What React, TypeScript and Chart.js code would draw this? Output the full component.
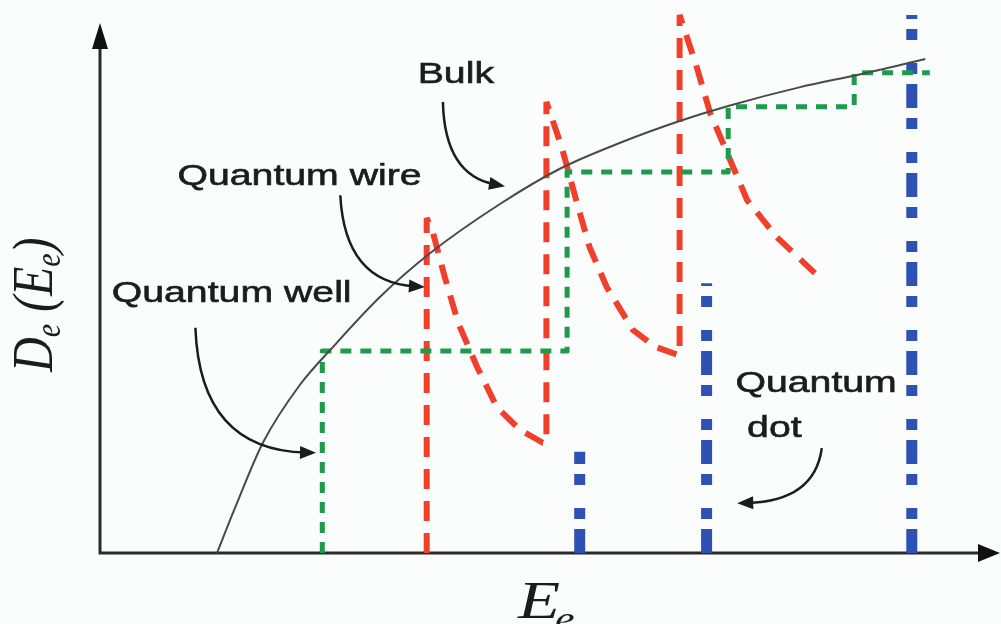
import { useEffect, useRef } from "react";
import { Chart, registerables } from "chart.js";

Chart.register(...registerables);

// ---- data (schematic units: energy 0..100, density 0..100) ----
const bulkX = [13.0, 15.0, 18.1, 22.2, 25.9, 31.1, 36.7, 44.4, 51.1, 57.8, 64.4, 69.7, 77.8, 84.4, 91.7];
const bulkY = [0, 8.5, 20.8, 31.7, 38.9, 48.3, 56.6, 65.8, 72.5, 77.4, 81.5, 84.3, 87.9, 90.3, 93.2];

const wellEdges = [24.7, 51.9, 69.8, 83.8];
const wellLevels = [38.1, 71.9, 84.2, 90.6];
const wellEnd = 92.2;

const wireX = [36.3, 36.3, 37.0, 38.3, 39.8, 41.9, 44.1, 46.7, 49.2, 49.6, 49.6, 51.3, 53.0, 54.4, 56.3, 59.2, 61.7, 64.2, 64.4, 64.4, 66.3, 67.8, 70.0, 71.9, 75.2, 80.0];
const wireY = [0, 63.2, 60.4, 52.1, 43.4, 35.1, 27.5, 23.2, 20.8, 20.8, 85.1, 76.6, 66.0, 57.7, 50.2, 42.1, 38.9, 37.4, 37.4, 101.5, 91.7, 83.0, 74.2, 66.6, 59.6, 51.9];

const dotX = [53.3, 67.4, 90.2];
const dotTop = [19.1, 50.9, 101.5];

const noteLabels = ["Bulk", "Quantum wire", "Quantum well", "Quantum", "dot"];
const noteX = [35.3, 8.6, 1.3, 70.6, 71.9];
const noteY = [88.7, 69.4, 47.4, 30.4, 21.9];

// curved arrows: start, control, end (data units)
const arrowStart = [[38.1, 85.1], [26.7, 67.5], [10.6, 42.5], [80.2, 19.8]];
const arrowCtrl = [[38.3, 71.3], [27.2, 51.1], [11.1, 19.4], [79.4, 9.8]];
const arrowEnd = [[45.0, 69.2], [36.1, 50.2], [24.0, 18.9], [70.8, 9.4]];

const X_MIN = 0, X_MAX = 100, Y_MIN = 0, Y_MAX = 100;

const INK = "#1c1c1c";
const SANS = "Arial, 'Liberation Sans', sans-serif";
const SERIF = "'Liberation Serif', 'DejaVu Serif', serif";

function head(ctx: CanvasRenderingContext2D, tx: number, ty: number, ang: number, len: number, hw: number) {
  ctx.beginPath();
  ctx.moveTo(tx, ty);
  ctx.lineTo(tx - len * Math.cos(ang) + hw * Math.sin(ang), ty - len * Math.sin(ang) - hw * Math.cos(ang));
  ctx.lineTo(tx - len * Math.cos(ang) - hw * Math.sin(ang), ty - len * Math.sin(ang) + hw * Math.cos(ang));
  ctx.closePath();
  ctx.fill();
}

const overlay = {
  id: "overlay",
  beforeDraw(chart: any) {
    const ctx = chart.ctx;
    ctx.save();
    ctx.fillStyle = "#fbfcfc";
    ctx.fillRect(0, 0, chart.width, chart.height);
    ctx.restore();
  },
  beforeDatasetsDraw(chart: any) {
    const ctx: CanvasRenderingContext2D = chart.ctx;
    const xs = chart.scales.x, ys = chart.scales.y;
    const x0 = xs.getPixelForValue(X_MIN), x1 = xs.getPixelForValue(X_MAX);
    const y0 = ys.getPixelForValue(Y_MIN), y1 = ys.getPixelForValue(Y_MAX);
    ctx.save();
    ctx.strokeStyle = "#2a2a2a";
    ctx.fillStyle = "#111";
    ctx.lineWidth = 3;
    ctx.beginPath();
    ctx.moveTo(x0, y0 + 1.5);
    ctx.lineTo(x0, y1 + 20);
    ctx.moveTo(x0 - 1.5, y0);
    ctx.lineTo(x1 - 16, y0);
    ctx.stroke();
    head(ctx, x0, y1, -Math.PI / 2, 26, 8);
    head(ctx, x1, y0, 0, 22, 9);
    ctx.restore();
  },
  afterDatasetsDraw(chart: any) {
    const ctx: CanvasRenderingContext2D = chart.ctx;
    const xs = chart.scales.x, ys = chart.scales.y;
    const px = (v: number) => xs.getPixelForValue(v);
    const py = (v: number) => ys.getPixelForValue(v);
    ctx.save();
    // annotation texts (source figure is stretched horizontally)
    ctx.fillStyle = INK;
    ctx.strokeStyle = INK;
    ctx.lineWidth = 0.6;
    ctx.font = `29.5px ${SANS}`;
    ctx.textBaseline = "alphabetic";
    ctx.textAlign = "left";
    noteLabels.forEach((t, i) => {
      ctx.save();
      ctx.translate(px(noteX[i]), py(noteY[i]));
      ctx.scale(1.33, 1);
      ctx.fillText(t, 0, 0);
      ctx.strokeText(t, 0, 0);
      ctx.restore();
    });
    // curved arrows
    ctx.lineWidth = 2.5;
    arrowStart.forEach((s, i) => {
      const c = arrowCtrl[i], e = arrowEnd[i];
      const sx = px(s[0]), sy = py(s[1]), cx = px(c[0]), cy = py(c[1]), ex = px(e[0]), ey = py(e[1]);
      const ang = Math.atan2(ey - cy, ex - cx);
      const bx = ex - 10 * Math.cos(ang), by = ey - 10 * Math.sin(ang);
      ctx.beginPath();
      ctx.moveTo(sx, sy);
      ctx.quadraticCurveTo(cx, cy, bx, by);
      ctx.stroke();
      head(ctx, ex, ey, ang, 16, 6.5);
    });
    // x axis title E_e
    ctx.save();
    ctx.translate(518, 618);
    ctx.scale(1.3, 1);
    ctx.font = `italic 53px ${SERIF}`;
    ctx.fillText("E", 0, 0);
    const wE = ctx.measureText("E").width;
    ctx.font = `italic 34px ${SERIF}`;
    ctx.fillText("e", wE - 4, 12);
    ctx.restore();
    // y axis title D_e (E_e)
    ctx.save();
    ctx.translate(52, 372);
    ctx.rotate(-Math.PI / 2);
    ctx.scale(1, 1.2);
    let x = 0;
    const big = `italic 48px ${SERIF}`, sub = `italic 30px ${SERIF}`;
    const parts: [string, boolean][] = [["D", false], ["e", true], [" (E", false], ["e", true], [")", false]];
    parts.forEach(([t, isSub]) => {
      ctx.font = isSub ? sub : big;
      ctx.fillText(t, x, isSub ? 7 : 0);
      x += ctx.measureText(t).width;
    });
    ctx.restore();
    ctx.restore();
  },
};

export default function App() {
  const ref = useRef<HTMLCanvasElement | null>(null);
  useEffect(() => {
    if (!ref.current) return;
    const wellPts: { x: number; y: number }[] = [{ x: wellEdges[0], y: 0 }];
    wellEdges.forEach((e, i) => {
      wellPts.push({ x: e, y: wellLevels[i] });
      const next = i + 1 < wellEdges.length ? wellEdges[i + 1] : wellEnd;
      wellPts.push({ x: next, y: wellLevels[i] });
    });
    const dotSets = dotX.map((x, i) => ({
      label: `Quantum dot ${i + 1}`,
      data: [{ x, y: 0 }, { x, y: dotTop[i] }],
      borderColor: "#2d52b3",
      borderWidth: 11,
      borderDash: [24, 10, 11, 23, 11, 10],
      pointRadius: 0,
      tension: 0,
      order: 4,
      clip: false as const,
    }));
    const chart = new Chart(ref.current, {
      type: "line",
      data: {
        datasets: [
          {
            label: "Bulk",
            data: bulkX.map((x, i) => ({ x, y: bulkY[i] })),
            borderColor: "#4a4a4a",
            borderWidth: 2,
            pointRadius: 0,
            cubicInterpolationMode: "monotone",
            order: 0,
            clip: false,
          },
          {
            label: "Quantum well",
            data: wellPts,
            borderColor: "#1f9a4c",
            borderWidth: 5,
            borderDash: [11, 9],
            borderJoinStyle: "round",
            pointRadius: 0,
            tension: 0,
            order: 1,
            clip: false,
          },
          {
            label: "Quantum wire",
            data: wireX.map((x, i) => ({ x, y: wireY[i] })),
            borderColor: "#f0402c",
            borderWidth: 6,
            borderDash: [20, 12],
            borderJoinStyle: "bevel",
            pointRadius: 0,
            tension: 0,
            order: 2,
            clip: false,
          },
          ...dotSets,
        ] as any,
      },
      options: {
        animation: false,
        responsive: true,
        maintainAspectRatio: false,
        layout: { padding: { left: 100, right: 1, top: 23, bottom: 71 } },
        plugins: { legend: { display: false }, tooltip: { enabled: false } },
        scales: {
          x: { type: "linear", min: X_MIN, max: X_MAX, display: false },
          y: { type: "linear", min: Y_MIN, max: Y_MAX, display: false },
        },
      },
      plugins: [overlay],
    });
    return () => chart.destroy();
  }, []);
  return (
    <div style={{ position: "absolute", left: 0, top: 0, width: 1001, height: 624 }}>
      <canvas ref={ref} />
    </div>
  );
}
